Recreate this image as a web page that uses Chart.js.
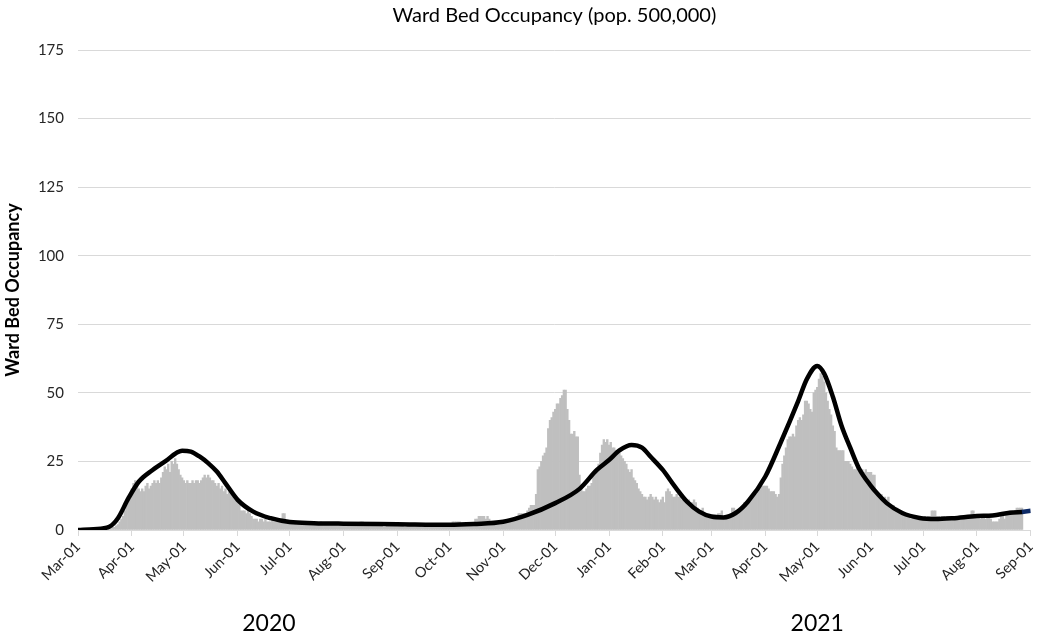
<!DOCTYPE html>
<html>
<head>
<meta charset="utf-8">
<script src="https://cdn.jsdelivr.net/npm/chart.js@4/dist/chart.umd.min.js"></script>
<style>
  html, body { margin: 0; padding: 0; background: #fff; }
  #wrap { width: 1045px; height: 635px; position: relative; }
</style>
</head>
<body>
<div id="wrap"><canvas id="wardChart"></canvas></div>
<script>
// daily ward bed occupancy, 1 Mar 2020 .. 31 Dec 2020 (one row per month)
const wardBeds2020 = [
    0,0,0,0,0,0,0,0,0,0, 0,0,0,0,0,0,0,0,0.5,0.5, 1,1,1.5,2,3,4,5,7,9,11, 13,
    15,17,18,17,15,14,15,14,16,17, 15,16,17,18,17,18,17,19,21,23, 22,24,21,25,24,26,24,22,20,19,
    18,17,18,17,17,18,17,18,18,17, 18,19,20,19,20,19,18,18,17,16, 17,15,16,14,15,13,14,13,12,13, 11,
    10,9,7,7,7,6,7,6,5,4, 4,4,3,4,4,3,4,3,3,3, 4,3,3,3,3,3,6,6,3,3,
    3,3,2,3,2,3,2,2,3,2, 2,2,3,2,2,2,2,2,3,2, 2,2,2,2,2,2,2,2,2,2, 2,
    2,2,2,2,2,2,2,2,2,2, 3,3,2,2,2,2,2,2,2,2, 2,2,2,1,1,2,2,2,2,2, 2,
    2,2,2,2,1,1,2,2,2,2, 2,2,2,2,1,1,2,2,2,2, 2,2,1,1,1,2,2,2,2,2,
    2,2,3,3,3,3,3,2,2,2, 2,2,2,2,2,4,4,5,5,5, 5,4,5,4,3,3,3,3,3,3, 3,
    3,3,3,4,4,4,4,4,5,6, 6,6,6,6,7,8,9,9,9,13, 22,23,25,27,28,30,37,40,41,43,
    44,46,46,48,49,51,51,44,40,35, 35,36,34,34,20,15,14,14,15,16, 16,17,20,21,22,24,28,31,33,32, 33
];
// 1 Jan 2021 .. 27 Aug 2021
const wardBeds2021 = [
    31,32,30,30,29,28,28,27,26,25, 24,22,21,22,19,18,17,15,14,13, 12,12,11,12,13,12,11,12,11,10, 11,
    12,10,14,15,14,13,12,12,13,12, 12,11,11,10,10,11,10,10,11,10, 8,7,7,8,6,6,5,5,
    4,4,5,4,6,6,7,5,5,5, 5,5,8,8,7,7,7,8,8,10, 10,11,10,11,12,13,13,14,15,16, 16,
    16,16,15,14,14,14,13,12,13,19, 24,27,30,33,34,34,35,34,38,40, 41,40,42,47,47,46,44,43,50,51,
    52,55,57,56,54,50,47,44,42,38, 36,30,29,29,29,29,25,25,25,24, 23,22,22,23,22,22,22,21,22,21, 21,
    21,20,20,14,13,12,13,11,12,11, 12,9,9,9,8,8,7,7,6,6, 6,5,5,4,5,4,4,5,4,4,
    4,5,4,5,5,7,7,7,5,5, 4,5,5,4,5,5,4,5,5,5, 4,5,5,5,4,5,5,5,7,7, 5,
    5,5,4,5,5,4,5,5,4,3, 3,3,3,4,5,5,4,6,6,7, 7,6,7,8,8,8,8
];

// smoothed model curve
const modelDates = [
    '2020-03-01','2020-03-10','2020-03-19','2020-03-24','2020-03-30','2020-04-05','2020-04-13','2020-04-20',
    '2020-04-30','2020-05-05','2020-05-10','2020-05-15','2020-05-20','2020-05-25','2020-06-01','2020-06-10',
    '2020-06-20','2020-07-01','2020-07-15','2020-08-01','2020-09-01','2020-10-01','2020-10-15','2020-11-01',
    '2020-11-15','2020-12-01','2020-12-15','2020-12-25','2021-01-01','2021-01-07','2021-01-14','2021-01-20',
    '2021-01-25','2021-02-01','2021-02-08','2021-02-15','2021-02-22','2021-03-01','2021-03-08','2021-03-15',
    '2021-03-22','2021-04-01','2021-04-10','2021-04-20','2021-04-25','2021-05-01','2021-05-05','2021-05-10',
    '2021-05-15','2021-05-20','2021-05-25','2021-06-01','2021-06-05','2021-06-10','2021-06-19','2021-06-29',
    '2021-07-08','2021-07-18','2021-08-01','2021-08-10','2021-08-20','2021-08-27'
];
const modelValues = [
    0, 0.3, 1.2, 4.3, 11.5, 17.6, 21.9, 24.9,
    28.9, 28.6, 26.8, 24.4, 21.3, 17, 11, 6.7,
    4.3, 2.9, 2.5, 2.3, 2.1, 1.9, 2.2, 3,
    5.5, 9.8, 15, 21.9, 25.5, 29, 31, 30,
    26.7, 21.9, 15.8, 10.3, 6.7, 4.9, 4.6, 6.2,
    10.3, 19.4, 32, 47, 55, 59.8, 57, 48.6,
    38, 30, 22.5, 16, 13, 9.8, 6.2, 4.4,
    4.0, 4.3, 5.1, 5.3, 6.3, 6.6
];
// projection tail (blue)
const projectionDates = ['2021-08-27', '2021-09-01'];
const projectionValues = [6.6, 7.0];

const monthTickDates = [
    '2020-03-01','2020-04-01','2020-05-01','2020-06-01','2020-07-01','2020-08-01','2020-09-01','2020-10-01',
    '2020-11-01','2020-12-01','2021-01-01','2021-02-01','2021-03-01','2021-04-01','2021-05-01','2021-06-01',
    '2021-07-01','2021-08-01','2021-09-01'
];
const monthTickLabels = [
    'Mar-01','Apr-01','May-01','Jun-01','Jul-01','Aug-01','Sep-01','Oct-01',
    'Nov-01','Dec-01','Jan-01','Feb-01','Mar-01','Apr-01','May-01','Jun-01',
    'Jul-01','Aug-01','Sep-01'
];
const yearLabels = ['2020', '2021'];
const yearLabelDates = ['2020-06-19', '2021-05-01'];

const FONT = "Lato, 'Open Sans', sans-serif";
const START = Date.UTC(2020, 2, 1);

function dayIndex(iso) {
    const [y, m, d] = iso.split('-').map(Number);
    return Math.round((Date.UTC(y, m - 1, d) - START) / 86400000);
}

const barValues = wardBeds2020.concat(wardBeds2021);
const tickDays = monthTickDates.map(dayIndex);

const yearLabelPlugin = {
    id: 'yearLabels',
    afterDraw(chart) {
        const ctx = chart.ctx;
        const xScale = chart.scales.x;
        ctx.save();
        ctx.font = `23px ${FONT}`;
        ctx.fillStyle = '#000';
        ctx.textAlign = 'center';
        ctx.textBaseline = 'middle';
        yearLabels.forEach((txt, i) => {
            const px = xScale.getPixelForValue(dayIndex(yearLabelDates[i]));
            ctx.fillText(txt, px, chart.chartArea.bottom + 94);
        });
        ctx.restore();
    }
};

new Chart(document.getElementById('wardChart'), {
    type: 'bar',
    data: {
        datasets: [
            {
                type: 'line',
                data: modelDates.map((d, i) => ({ x: dayIndex(d), y: modelValues[i] })),
                borderColor: '#000000',
                borderWidth: 4.5,
                pointRadius: 0,
                cubicInterpolationMode: 'monotone',
                borderCapStyle: 'round',
                borderJoinStyle: 'round',
                order: 1
            },
            {
                type: 'line',
                data: projectionDates.map((d, i) => ({ x: dayIndex(d), y: projectionValues[i] })),
                borderColor: '#0d2a66',
                borderWidth: 4.5,
                pointRadius: 0,
                order: 0
            },
            {
                data: barValues.map((v, i) => ({ x: i, y: v })),
                backgroundColor: '#bfbfbf',
                borderWidth: 0,
                barPercentage: 1,
                categoryPercentage: 1,
                order: 2
            }
        ]
    },
    options: {
        responsive: true,
        maintainAspectRatio: false,
        animation: false,
        layout: { padding: { left: 0, right: 13, top: 0, bottom: 0 } },
        plugins: {
            legend: { display: false },
            tooltip: { enabled: false },
            title: {
                display: true,
                fullSize: false,
                text: 'Ward Bed Occupancy (pop. 500,000)',
                color: '#000',
                font: { family: FONT, size: 20, weight: 'normal', lineHeight: 1.2 },
                padding: { top: 4, bottom: 22 }
            }
        },
        scales: {
            x: {
                type: 'linear',
                min: 0,
                max: tickDays[tickDays.length - 1],
                offset: false,
                afterBuildTicks: axis => {
                    axis.ticks = tickDays.map(v => ({ value: v }));
                },
                afterFit: scale => { scale.height = 105; },
                grid: {
                    offset: false,
                    drawOnChartArea: false,
                    drawTicks: true,
                    tickLength: 6,
                    color: '#d9d9d9'
                },
                border: { color: '#d9d9d9' },
                ticks: {
                    autoSkip: false,
                    minRotation: 45,
                    maxRotation: 45,
                    padding: 2,
                    color: '#262626',
                    font: { family: FONT, size: 14.5 },
                    callback: (value, index) => monthTickLabels[index]
                }
            },
            y: {
                min: 0,
                max: 175,
                afterFit: scale => { scale.width = 78; },
                ticks: {
                    stepSize: 25,
                    padding: 14,
                    color: '#262626',
                    font: { family: FONT, size: 15 }
                },
                grid: { color: '#d9d9d9', drawTicks: false },
                border: { display: false },
                title: {
                    display: true,
                    text: 'Ward Bed Occupancy',
                    color: '#000',
                    font: { family: FONT, size: 18, weight: 'bold' },
                    padding: { top: 2, bottom: 0 }
                }
            }
        }
    },
    plugins: [yearLabelPlugin]
});
</script>
</body>
</html>
